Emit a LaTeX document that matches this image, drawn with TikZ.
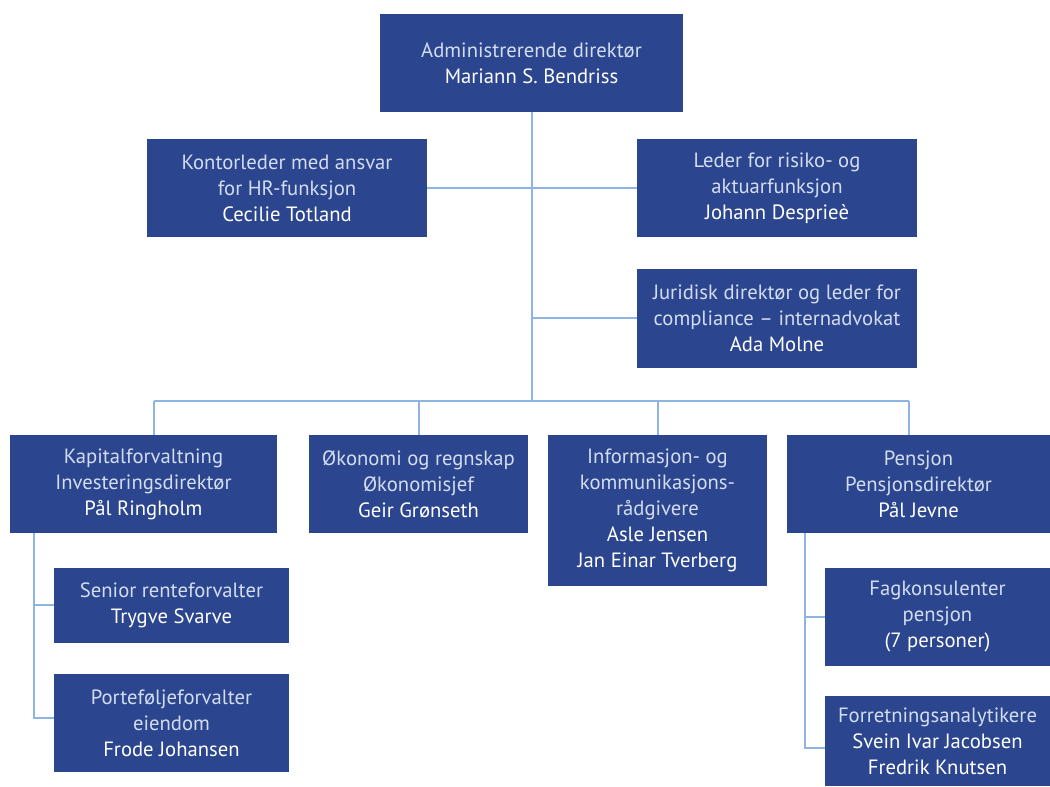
\documentclass[tikz,border=0pt]{standalone}
\usepackage{fontspec}
\setmainfont{PT Sans}
\definecolor{boxblue}{HTML}{2B458E}
\definecolor{titlecol}{HTML}{D3DDF0}
\definecolor{linecol}{HTML}{8EB4E3}
\newcommand{\nm}[1]{\textcolor{white}{#1}}
\begin{document}
\begin{tikzpicture}[x=0.75pt,y=-0.75pt,
  orgbox/.style={fill=boxblue,draw=none,text=titlecol,align=center,inner sep=0pt,
    font=\fontsize{15.5}{19.5}\selectfont},
  conn/.style={draw=linecol,line width=1.5pt}]
\useasboundingbox (0,0) rectangle (1050,787);
\node[orgbox,minimum width=227.25pt,minimum height=73.5pt] (top) at (531.5,63) {Administrerende direktør\\\nm{Mariann S. Bendriss}};
\node[orgbox,minimum width=210pt,minimum height=73.5pt] (kontor) at (287,188) {Kontorleder med ansvar\\for HR-funksjon\\\nm{Cecilie Totland}};
\node[orgbox,minimum width=210pt,minimum height=73.5pt] (risiko) at (777,188) {Leder for risiko- og\\aktuarfunksjon\\\nm{Johann Desprieè}};
\node[orgbox,minimum width=210pt,minimum height=74.25pt] (jur) at (777,318.5) {Juridisk direktør og leder for\\compliance – internadvokat\\\nm{Ada Molne}};
\node[orgbox,minimum width=200.25pt,minimum height=73.5pt] (kap) at (143.5,484) {Kapitalforvaltning\\Investeringsdirektør\\\nm{Pål Ringholm}};
\node[orgbox,minimum width=164.25pt,minimum height=73.5pt] (oko) at (418.5,484) {Økonomi og regnskap\\Økonomisjef\\\nm{Geir Grønseth}};
\node[orgbox,minimum width=164.25pt,minimum height=113.25pt] (info) at (657.5,510.5) {Informasjon- og\\kommunikasjons-\\rådgivere\\\nm{Asle Jensen}\\\nm{Jan Einar Tverberg}};
\node[orgbox,minimum width=197.25pt,minimum height=73.5pt] (pen) at (918.5,484) {Pensjon\\Pensjonsdirektør\\\nm{Pål Jevne}};
\node[orgbox,minimum width=176.25pt,minimum height=56.25pt] (sen) at (171.5,605.5) {Senior renteforvalter\\\nm{Trygve Svarve}};
\node[orgbox,minimum width=176.25pt,minimum height=73.5pt] (port) at (171.5,723) {Porteføljeforvalter\\eiendom\\\nm{Frode Johansen}};
\node[orgbox,minimum width=168.75pt,minimum height=73.5pt] (fag) at (937.5,617) {Fagkonsulenter\\pensjon\\\nm{(7 personer)}};
\node[orgbox,minimum width=168.75pt,minimum height=67.5pt] (forr) at (937.5,741) {Forretningsanalytikere\\\nm{Svein Ivar Jacobsen}\\\nm{Fredrik Knutsen}};
% connectors
\coordinate (bus) at (531.5,401);
\coordinate (busL) at (154,401);
\coordinate (busR) at (909,401);
\coordinate (kb) at (34,718);
\coordinate (pb) at (805,748);
\draw[conn] (top.south) -- (bus);
\draw[conn] (kontor.east) -- (risiko.west);
\draw[conn] (top.south |- jur.west) -- (jur.west);
\draw[conn] (busL) -- (busR);
\draw[conn] (busL) -- (busL |- kap.north);
\draw[conn] (oko.north |- bus) -- (oko.north);
\draw[conn] (info.north |- bus) -- (info.north);
\draw[conn] (busR) -- (busR |- pen.north);
\draw[conn] (kb |- kap.south) -- (kb) -- (kb -| port.west);
\draw[conn] (kb |- sen.west) -- (sen.west);
\draw[conn] (pb |- pen.south) -- (pb) -- (pb -| forr.west);
\draw[conn] (pb |- fag.west) -- (fag.west);
\end{tikzpicture}
\end{document}
